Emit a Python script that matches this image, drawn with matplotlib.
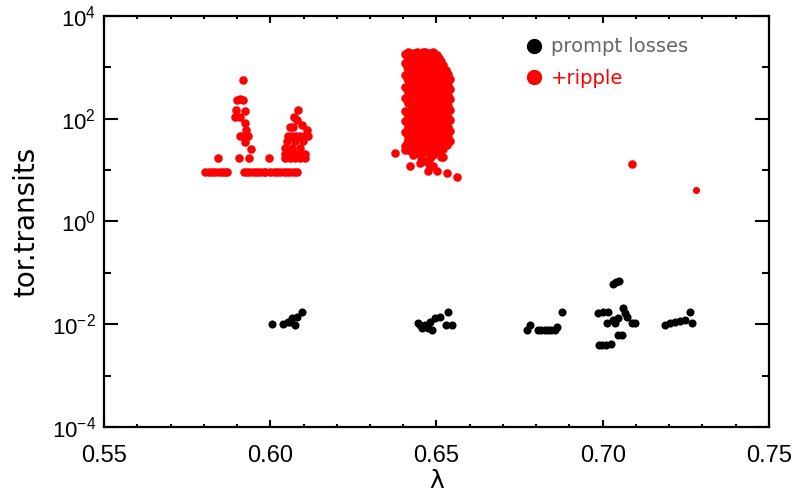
import math
import matplotlib.pyplot as plt
from matplotlib.lines import Line2D
from matplotlib.ticker import FixedLocator, FuncFormatter, NullFormatter

# +ripple, left group (lambda ~ 0.58 - 0.61)
ripA_x = [0.5805, 0.5815, 0.5825, 0.5835, 0.5845, 0.5855, 0.5865, 0.5870,
          0.5920, 0.5930, 0.5940, 0.5950, 0.5960, 0.5970, 0.5980, 0.5985,
          0.6000, 0.6010, 0.6020, 0.6030, 0.6040, 0.6050, 0.6060, 0.6070, 0.6080,
          0.5843, 0.5906, 0.5936, 0.5996,
          0.5918, 0.5900, 0.5909, 0.5918, 0.5897, 0.5924, 0.5894, 0.5909,
          0.5924, 0.5927, 0.5909, 0.5920, 0.5933, 0.5924, 0.5942,
          0.6083, 0.6071, 0.6080, 0.6059, 0.6068, 0.6095, 0.6111,
          0.6053, 0.6065, 0.6077, 0.6089, 0.6105, 0.6114,
          0.6050, 0.6074, 0.6098,
          0.6044, 0.6065, 0.6089,
          0.6044, 0.6059, 0.6074, 0.6089, 0.6104,
          0.6044, 0.6059, 0.6074, 0.6089, 0.6104]
ripA_y = [9, 9, 9, 9, 9, 9, 9, 9,
          9, 9, 9, 9, 9, 9, 9, 9,
          9, 9, 9, 9, 9, 9, 9, 9, 9,
          17, 17, 17, 17,
          570, 234, 240, 234, 148, 140, 108, 108,
          83, 60, 47, 47, 45, 35, 26,
          148, 108, 95, 68, 70, 76, 60,
          47, 47, 47, 47, 47, 47,
          37, 37, 37,
          27, 27, 27,
          21, 21, 21, 21, 21,
          17, 17, 17, 17, 17]

# +ripple, dense group near lambda ~ 0.64 - 0.655 (columns)
ripB_cols = [0.6405, 0.6415, 0.6428, 0.6440, 0.6452, 0.6465,
             0.6478, 0.6490, 0.6503, 0.6515, 0.6528, 0.6540,
             0.6410, 0.6422, 0.6434, 0.6446, 0.6458, 0.6471,
             0.6484, 0.6496, 0.6509, 0.6521, 0.6534]
ripB_vals = [
    [1800, 1200, 700, 420, 250, 140, 90, 55, 30],
    [2000, 1500, 900, 560, 330, 200, 110, 70, 40, 25],
    [1900, 1300, 800, 500, 300, 180, 120, 75, 45, 28, 20],
    [2000, 1600, 1000, 650, 400, 240, 150, 95, 60, 35, 22],
    [1800, 1100, 700, 450, 280, 170, 100, 65, 42, 27, 18],
    [2000, 1400, 900, 580, 350, 210, 130, 80, 50, 32, 15],
    [1900, 1250, 780, 480, 300, 190, 115, 70, 45, 28, 13],
    [2000, 1500, 950, 600, 380, 230, 140, 85, 55, 34, 20, 12],
    [1700, 1100, 680, 420, 260, 160, 100, 62, 40, 25],
    [1300, 800, 520, 330, 200, 125, 78, 48, 30, 18],
    [900, 560, 350, 220, 135, 85, 52, 32],
    [600, 380, 240, 150, 95, 58, 36],
    [1650, 1000, 620, 380, 230, 130, 85, 50, 33],
    [1750, 1100, 680, 410, 250, 150, 95, 58, 36, 23],
    [1800, 1200, 740, 460, 270, 170, 105, 66, 40, 26],
    [1700, 1150, 820, 520, 320, 195, 120, 78, 48, 30],
    [1950, 1250, 800, 520, 310, 190, 118, 72, 46, 24],
    [1600, 1050, 680, 420, 260, 160, 100, 62, 38, 22],
    [1700, 1100, 700, 430, 270, 165, 100, 62, 38, 24],
    [1800, 1250, 760, 480, 300, 185, 112, 70, 44, 28],
    [1500, 950, 600, 370, 230, 140, 88, 54, 34, 22],
    [1100, 680, 430, 270, 165, 100, 64, 40, 26],
    [750, 460, 290, 180, 110, 70, 44],
]
# stragglers below the dense group
ripC_x = [0.6375, 0.6405, 0.6420, 0.6450, 0.6474, 0.6501, 0.6532, 0.6562, 0.6520, 0.6532, 0.6480]
ripC_y = [21.5, 25, 12, 13.5, 9.5, 9.8, 8.6, 7.4, 18, 31, 17]

# two isolated ripple losses
ripD_x = [0.7088, 0.7280]
ripD_y = [13, 4.1]

# prompt losses
prompt_x = [0.6005, 0.6039, 0.6053, 0.6060, 0.6065, 0.6075, 0.6080, 0.6095,
            0.6444, 0.6450, 0.6456, 0.6465, 0.6474, 0.6480, 0.6486, 0.6495,
            0.6510, 0.6530, 0.6535, 0.6547,
            0.6772, 0.6780, 0.6805, 0.6815, 0.6825, 0.6835, 0.6845, 0.6855,
            0.6862, 0.6877,
            0.6986, 0.7001, 0.7016, 0.7013, 0.7031, 0.7037, 0.7046, 0.7061,
            0.7067, 0.7073, 0.7088, 0.7097, 0.7058, 0.7046, 0.6990, 0.6998,
            0.7010, 0.7025, 0.7031, 0.7040, 0.7050,
            0.7187, 0.7202, 0.7217, 0.7232, 0.7247, 0.7262, 0.7268]
prompt_y = [0.0102, 0.0102, 0.0110, 0.0112, 0.0133, 0.0098, 0.0139, 0.0174,
            0.0107, 0.0095, 0.0085, 0.0098, 0.0085, 0.0112, 0.0078, 0.0133,
            0.0139, 0.0098, 0.0174, 0.0098,
            0.0078, 0.0098, 0.0078, 0.0078, 0.0078, 0.0078, 0.0078, 0.0078,
            0.0089, 0.0174,
            0.0166, 0.0174, 0.0174, 0.0107, 0.0123, 0.0107, 0.0133, 0.0209,
            0.0166, 0.0139, 0.0107, 0.0107, 0.0062, 0.0062, 0.0040, 0.0040,
            0.0040, 0.0042, 0.062, 0.065, 0.068,
            0.0098, 0.0107, 0.0112, 0.0118, 0.0123, 0.0174, 0.0107]

ripB_x = []
ripB_y = []
for cx, vals in zip(ripB_cols, ripB_vals):
    for v in vals:
        ripB_x.append(cx)
        ripB_y.append(v)

plt.rcParams['font.family'] = ['Liberation Sans', 'DejaVu Sans']

fig = plt.figure(figsize=(7.96, 4.96), dpi=100)
ax = fig.add_axes([0.1307, 0.139, 0.8353, 0.829])

red = '#ff0000'
ax.scatter(ripA_x, ripA_y, s=38, color=red, lw=0, zorder=3)
ax.scatter(ripB_x, ripB_y, s=38, color=red, lw=0, zorder=3)
ax.scatter(ripC_x, ripC_y, s=38, color=red, lw=0, zorder=3)
ax.scatter(ripD_x[:1], ripD_y[:1], s=38, color=red, lw=0, zorder=3)
ax.scatter(ripD_x[1:], ripD_y[1:], s=26, color=red, lw=0, zorder=3)
ax.scatter(prompt_x, prompt_y, s=34, color='black', lw=0, zorder=3)

ax.set_yscale('log')
ax.set_xlim(0.55, 0.75)
ax.set_ylim(1e-4, 1e4)

ax.xaxis.set_major_locator(FixedLocator([0.55, 0.60, 0.65, 0.70, 0.75]))
ax.xaxis.set_minor_locator(FixedLocator([0.55 + 0.01 * i for i in range(21)]))
ax.xaxis.set_major_formatter(FuncFormatter(lambda v, p: '%.2f' % v))
ax.yaxis.set_major_locator(FixedLocator([1e-4, 1e-2, 1e0, 1e2, 1e4]))
ax.yaxis.set_minor_locator(FixedLocator([1e-3, 1e-1, 1e1, 1e3]))
ax.yaxis.set_minor_formatter(NullFormatter())
ax.yaxis.set_major_formatter(FuncFormatter(
    lambda v, p: r'$\mathdefault{10^{%d}}$' % round(math.log10(v))))

ax.tick_params(axis='both', which='both', direction='in', top=True, right=True,
               width=1.5, colors='black')
ax.tick_params(axis='x', which='major', length=5, pad=13, labelsize=17)
ax.tick_params(axis='x', which='minor', length=2.5)
ax.tick_params(axis='y', which='major', length=10, pad=6, labelsize=16)
ax.tick_params(axis='y', which='minor', length=5)
for sp in ax.spines.values():
    sp.set_linewidth(1.6)

ax.set_ylabel('tor.transits', fontsize=20, family='DejaVu Sans', labelpad=8)
ax.set_xlabel('λ', fontsize=18, family='DejaVu Sans', labelpad=1)

handles = [Line2D([], [], marker='o', ls='', color='black', ms=10),
           Line2D([], [], marker='o', ls='', color=red, ms=10)]
leg = ax.legend(handles, ['prompt losses', '+ripple'], loc='upper left',
                bbox_to_anchor=(0.605, 0.99), frameon=False, handlelength=1,
                handletextpad=0.4, labelspacing=0.65,
                prop={'family': 'DejaVu Sans', 'size': 14})
leg.get_texts()[0].set_color('#666666')
leg.get_texts()[1].set_color(red)

fig.savefig('out.png', dpi=100)
